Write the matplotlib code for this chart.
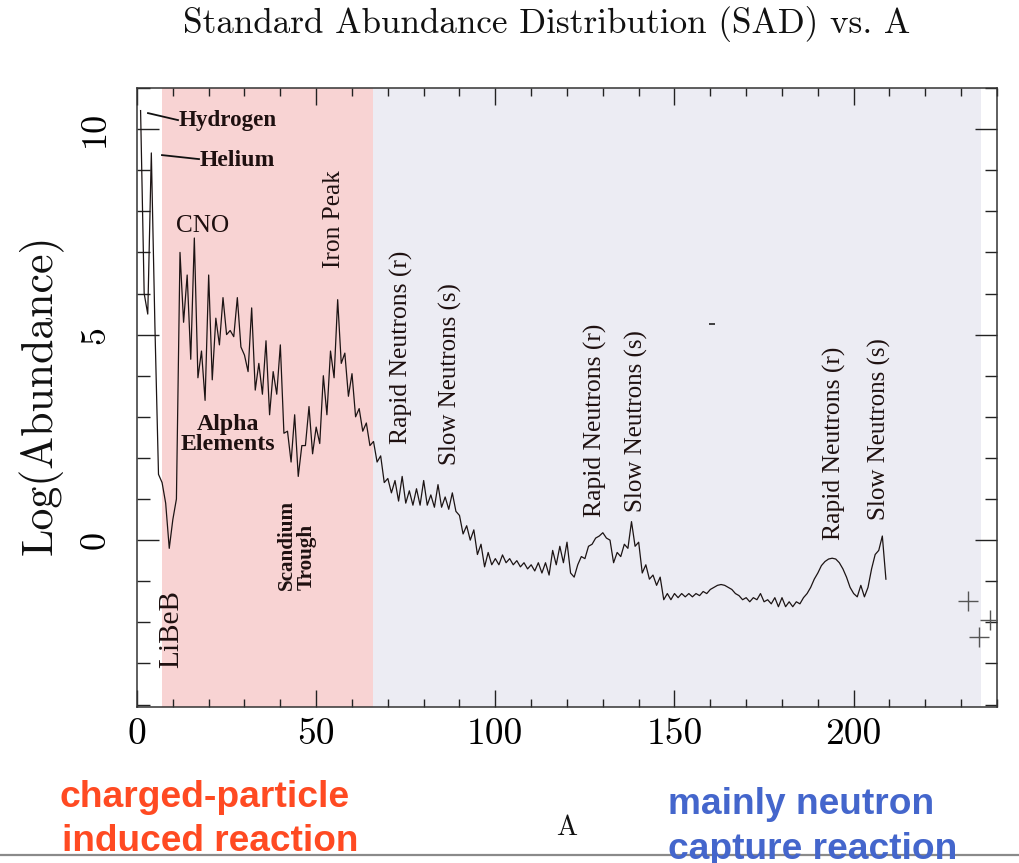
import matplotlib
matplotlib.use("Agg")
import matplotlib.pyplot as plt
import numpy as np

plt.rcParams['font.family'] = ['cmr10', 'DejaVu Serif']
plt.rcParams['axes.formatter.use_mathtext'] = True
plt.rcParams['axes.unicode_minus'] = False

# ---------------- data ----------------
mass_number = list(range(1, 210))
log_abundance = [
    10.45, 6.0, 5.5, 9.42, 5.2, 1.6, 1.4, 0.9, -0.2, 0.5,          # 1-10
    1.0, 7.0, 5.3, 6.45, 4.4, 7.35, 3.95, 4.6, 3.4, 6.45,          # 11-20
    3.9, 5.4, 4.75, 5.9, 5.0, 5.1, 4.95, 5.9, 4.7, 4.5,            # 21-30
    4.1, 5.65, 3.65, 4.3, 3.55, 4.85, 3.05, 4.1, 3.55, 4.75,       # 31-40
    2.6, 2.65, 1.9, 3.05, 1.55, 2.3, 2.3, 3.25, 2.1, 2.75,         # 41-50
    2.35, 4.0, 3.05, 4.6, 3.95, 5.85, 4.3, 4.55, 3.5, 4.05,        # 51-60
    3.0, 3.2, 2.65, 2.85, 2.3, 2.4, 1.9, 2.05, 1.4, 1.5,           # 61-70
    1.15, 1.45, 0.95, 1.55, 0.9, 1.2, 0.85, 1.25, 0.85, 1.45,      # 71-80
    0.85, 1.1, 0.8, 1.35, 0.8, 1.05, 0.75, 1.15, 0.7, 0.6,         # 81-90
    0.15, 0.35, 0.0, 0.25, -0.35, -0.1, -0.65, -0.3, -0.6, -0.45,  # 91-100
    -0.6, -0.36, -0.55, -0.45, -0.6, -0.5, -0.65, -0.55, -0.7, -0.6,   # 101-110
    -0.75, -0.55, -0.8, -0.55, -0.85, -0.25, -0.6, -0.15, -0.55, -0.05,  # 111-120
    -0.8, -0.9, -0.6, -0.4, -0.45, -0.15, -0.1, 0.05, 0.1, 0.18,   # 121-130
    0.05, 0.0, -0.55, -0.3, -0.4, -0.1, -0.2, 0.45, -0.15, -0.05,  # 131-140
    -0.8, -0.6, -0.95, -0.85, -1.1, -0.9, -1.45, -1.3, -1.45, -1.3,    # 141-150
    -1.4, -1.3, -1.38, -1.3, -1.38, -1.3, -1.35, -1.25, -1.3, -1.2,    # 151-160
    -1.15, -1.1, -1.08, -1.1, -1.15, -1.2, -1.3, -1.35, -1.45, -1.4,   # 161-170
    -1.5, -1.4, -1.45, -1.3, -1.5, -1.45, -1.55, -1.4, -1.62, -1.4,    # 171-180
    -1.62, -1.5, -1.62, -1.5, -1.55, -1.4, -1.3, -1.15, -0.95, -0.8,   # 181-190
    -0.62, -0.52, -0.46, -0.44, -0.46, -0.55, -0.7, -0.9, -1.15, -1.3, # 191-200
    -1.38, -1.1, -1.38, -1.15, -0.7, -0.35, -0.25, 0.1, -0.95,         # 201-209
]
actinide_A = [232, 235, 238]
actinide_log = [-1.48, -2.35, -1.95]

x_ticks = [0, 50, 100, 150, 200]
x_tick_labels = ['0', '50', '100', '150', '200']
y_ticks = [0, 5, 10]
y_tick_labels = ['0', '5', '10']

charged_region = (6.9, 66.0)
neutron_region = (66.0, 235.5)

W, H = 1020, 863
fig = plt.figure(figsize=(W / 100, H / 100), dpi=100)
ax = fig.add_axes([137 / W, 1 - 707 / H, 860 / W, 619 / H])
ax.set_xlim(0, 240)
ax.set_ylim(-4.06, 11.0)

ax.axvspan(*charged_region, color='#f8d3d3', lw=0, zorder=0)
ax.axvspan(*neutron_region, color='#ececf3', lw=0, zorder=0)

ax.plot(mass_number, log_abundance, color='#1c1414', lw=0.9, zorder=3)
ax.plot(actinide_A, actinide_log, ls='none', marker='+', ms=15, mew=1.0,
        color='#555555', zorder=3)
ax.plot([160.5], [5.26], ls='none', marker='_', ms=5, mew=1.2, color='#222222')

ax.set_xticks(x_ticks, labels=x_tick_labels)
ax.set_xticks(np.arange(0, 241, 10), minor=True)
ax.set_yticks(y_ticks, labels=y_tick_labels, rotation=90, va='center')
ax.set_yticks(np.arange(-4, 12, 1), minor=True)
ax.tick_params(which='both', direction='in', top=True, right=True,
               color='#222222', width=1.0)
ax.tick_params(axis='x', which='major', length=12, labelsize=27, pad=8)
ax.tick_params(axis='x', which='minor', length=6)
ax.tick_params(axis='y', which='major', length=16, labelsize=26, pad=18.5)
ax.tick_params(axis='y', which='minor', length=9)
for s in ax.spines.values():
    s.set_linewidth(1.1)
    s.set_color('#333333')

serif = ['Liberation Serif', 'DejaVu Serif']
tc = '#1e1010'
texts = []

def px2data(x, y):
    return (x - 137) / 3.583, (540 - y) / 41.1

def ann(s, x, y, target, dim, **kw):
    dx, dy = px2data(x, y)
    t = ax.text(dx, dy, s, fontfamily=serif, color=tc, fontsize=14, **kw)
    texts.append((t, target, dim))
    return t

# leader lines
hx, hy = zip(px2data(148, 113), px2data(178, 120))
ax.plot(hx, hy, color='#111111', lw=1.3)
hx, hy = zip(px2data(162, 155), px2data(199, 159))
ax.plot(hx, hy, color='#111111', lw=1.3)

ann('Hydrogen', 179, 120, 98, 'w', ha='left', va='center', fontweight='bold')
ann('Helium', 200, 160, 75, 'w', ha='left', va='center', fontweight='bold')
ann('CNO', 203, 226, 53, 'w', ha='center', va='center')
ann('Iron Peak', 334, 219, 98, 'h', ha='center', va='center', rotation=90)
ann('Alpha\nElements', 228, 434, 94, 'w', ha='center', va='center',
    multialignment='center', fontweight='bold', linespacing=0.95)
ann('Scandium\nTrough', 297, 590, 90, 'h', ha='center', va='bottom', rotation=90,
    multialignment='left', linespacing=0.95, fontweight='bold')
ann('LiBeB', 171, 629, 78, 'h', ha='center', va='center', rotation=90)

for s, x, yb, L in [('Rapid Neutrons (r)', 401, 444, 194),
                    ('Slow Neutrons (s)', 450, 465, 182),
                    ('Rapid Neutrons (r)', 595, 517, 194),
                    ('Slow Neutrons (s)', 636, 512, 182),
                    ('Rapid Neutrons (r)', 834, 540, 194),
                    ('Slow Neutrons (s)', 879, 520, 182)]:
    ann(s, x, yb, L, 'h', ha='center', va='bottom', rotation=90)

# figure level texts
def ftext(s, x, y, target, dim, **kw):
    t = fig.text(x / W, 1 - y / H, s, fontsize=14, **kw)
    texts.append((t, target, dim))
    return t

ftext('Standard Abundance Distribution (SAD) vs. A', 547, 24, 727, 'w',
      ha='center', va='center', color='#111111')
ftext('Log(Abundance)', 41, 395, 320, 'h', ha='center', va='center',
      rotation=90, color='#111111')
ftext('A', 567, 828, 21, 'w', ha='center', va='center', color='#111111')

sans = ['Liberation Sans', 'DejaVu Sans']
red = '#ff4a22'
blue = '#4466cc'
ftext('charged-particle', 60, 797, 290, 'w', ha='left', va='center',
      color=red, fontweight='bold', fontfamily=sans)
ftext('induced reaction', 62, 841, 296, 'w', ha='left', va='center',
      color=red, fontweight='bold', fontfamily=sans)
ftext('mainly neutron', 668, 804, 266, 'w', ha='left', va='center',
      color=blue, fontweight='bold', fontfamily=sans)
ftext('capture reaction', 668, 849, 289, 'w', ha='left', va='center',
      color=blue, fontweight='bold', fontfamily=sans)

renderer = fig.canvas.get_renderer()
for _ in range(3):
    for t, target, dim in texts:
        bb = t.get_window_extent(renderer=renderer)
        cur = bb.width if dim == 'w' else bb.height
        if cur > 0:
            t.set_fontsize(t.get_fontsize() * target / cur)

fig.add_artist(plt.Line2D([0, 1], [1 - 855 / H, 1 - 855 / H],
                          transform=fig.transFigure, color='#8a8a8a', lw=1.6))

fig.savefig('out.png', dpi=100)
